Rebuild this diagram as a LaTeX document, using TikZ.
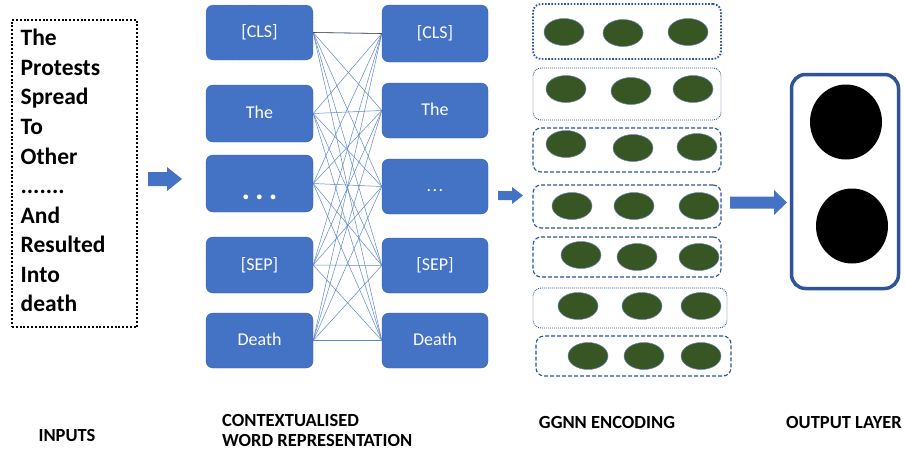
\documentclass[tikz,border=0pt]{standalone}
\usepackage{fontspec}
\setmainfont{Carlito}
\usetikzlibrary{shapes.geometric}
\definecolor{obl}{HTML}{4472C4}
\definecolor{dbl}{HTML}{2F5597}
\definecolor{grn}{HTML}{375623}
\begin{document}
\begin{tikzpicture}[x=1pt,y=-1pt,
  wbox/.style={rectangle, rounded corners=7pt, fill=obl, draw=obl!85!black, line width=0.4pt,
    text=white, font=\fontsize{18}{20}\selectfont, minimum width=106pt, minimum height=56pt,
    inner sep=0pt, text height=1.1em, text depth=0.1em},
  conn/.style={draw=obl!85, line width=0.5pt},
  gbox/.style={rectangle, rounded corners=8pt, draw=dbl, inner sep=0pt},
  thickdot/.style={gbox, line width=1.8pt, dash pattern=on 1.6pt off 1.6pt},
  finedot/.style={gbox, line width=0.9pt, dash pattern=on 0.9pt off 1.1pt},
  dashbox/.style={gbox, line width=1.1pt, dash pattern=on 4pt off 2pt},
  cell/.style={ellipse, fill=grn, draw=dbl!70, line width=0.5pt, minimum width=40pt, minimum height=27pt, inner sep=0pt},
  word/.style={anchor=base west, inner sep=0pt, font=\bfseries\fontsize{23.5}{27}\selectfont},
  captext/.style={font=\bfseries\fontsize{18.5}{20}\selectfont, inner sep=0pt},
  blockarrow/.style={fill=obl}
]
\useasboundingbox (0,0) rectangle (905,450);
\fill[white] (0,0) rectangle (905,450);

% ---------- inputs ----------
\node[draw, line width=2.2pt, dash pattern=on 2pt off 1.8pt, minimum width=125pt, minimum height=307pt, inner sep=0pt] (inbox) at (74.5,173.5) {};
\node[word] (w1) at (20.5,45.7) {The};
\node[word] (w2) at (20.5,75.3) {Protests};
\node[word] (w3) at (20.5,104.8) {Spread};
\node[word] (w4) at (20.5,134.4) {To};
\node[word] (w5) at (20.5,164.0) {Other};
\node[word] (w6) at (20.5,193.5) {.......};
\node[word] (w7) at (20.5,223.1) {And};
\node[word] (w8) at (20.5,252.6) {Resulted};
\node[word] (w9) at (20.5,282.2) {Into};
\node[word] (w10) at (20.5,311.7) {death};

% arrow 1
\fill[blockarrow] (148,172) -- (167,172) -- (167,167) -- (182,179) -- (167,191) -- (167,186) -- (148,186) -- cycle;

% ---------- contextualised word representation ----------
\node[wbox, draw=dbl, densely dotted, minimum width=107pt, minimum height=55pt] (lcls) at (259.5,32.5) {[CLS]};
\node[wbox, minimum width=107pt, minimum height=57pt] (lthe) at (259.5,113.5) {The};
\node[wbox, minimum width=107pt, minimum height=57pt] (ldots) at (259.5,183.5) {};
\node[wbox, minimum width=107pt, minimum height=56pt] (lsep) at (259.5,265) {[SEP]};
\node[wbox, minimum width=107pt, minimum height=55pt] (ldeath) at (259.5,340.5) {Death};

\node[wbox, minimum width=106pt, minimum height=57pt] (rcls) at (435,33.5) {[CLS]};
\node[wbox, minimum width=106pt, minimum height=55pt] (rthe) at (435,110.5) {The};
\node[wbox, minimum width=106pt, minimum height=55pt] (rdots) at (435,186.5) {.\hspace{1.5pt}.\hspace{1.5pt}.};
\node[wbox, minimum width=106pt, minimum height=55pt] (rsep) at (435,265.5) {[SEP]};
\node[wbox, minimum width=106pt, minimum height=55pt] (rdeath) at (435,340.5) {Death};

\node[text=white, font=\bfseries\fontsize{32}{34}\selectfont, inner sep=0pt, anchor=base] (ldotstext) at (259.5,199) {.\hspace{5pt}.\hspace{5pt}.};

\foreach \a in {lcls,lthe,ldots,lsep,ldeath}{
  \foreach \b in {rcls,rthe,rdots,rsep,rdeath}{
    \draw[conn] (\a.east) -- (\b.west);
  }
}
\draw[gray!60!black, line width=0.6pt] (lcls.east) -- (rcls.west);

% arrow 2
\fill[blockarrow] (498,191) -- (512,191) -- (512,187) -- (523,195.5) -- (512,204) -- (512,200) -- (498,200) -- cycle;

% ---------- GGNN encoding ----------
\node[thickdot, minimum width=188pt, minimum height=55pt] (g1) at (627,31.5) {};
\node[finedot, minimum width=188pt, minimum height=52pt] (g2) at (627,94) {};
\node[dashbox, minimum width=188pt, minimum height=44pt] (g3) at (627,150) {};
\node[dashbox, minimum width=188pt, minimum height=43pt] (g4) at (627,206.5) {};
\node[dashbox, minimum width=188pt, minimum height=40pt] (g5) at (627,257) {};
\node[finedot, minimum width=194pt, minimum height=40pt] (g6) at (630,308) {};
\node[dashbox, minimum width=195pt, minimum height=40pt] (g7) at (633.5,356) {};

\node[cell] (c11) at (564,32) {};
\node[cell] (c12) at (623,33) {};
\node[cell] (c13) at (688,32) {};
\node[cell] (c21) at (566,89) {};
\node[cell] (c22) at (631,91) {};
\node[cell] (c23) at (693,89) {};
\node[cell] (c31) at (566,144) {};
\node[cell] (c32) at (633,148) {};
\node[cell] (c33) at (697,147) {};
\node[cell] (c41) at (572,206) {};
\node[cell] (c42) at (634,206) {};
\node[cell] (c43) at (699,206) {};
\node[cell] (c51) at (581,255) {};
\node[cell] (c52) at (637,257) {};
\node[cell] (c53) at (699,257) {};
\node[cell] (c61) at (578,306) {};
\node[cell] (c62) at (642,306) {};
\node[cell] (c63) at (701,306) {};
\node[cell] (c71) at (588,356) {};
\node[cell] (c72) at (644,356) {};
\node[cell] (c73) at (701,356) {};

% arrow 3
\fill[blockarrow] (730,196.5) -- (774,196.5) -- (774,190) -- (787,202.5) -- (774,215) -- (774,208.5) -- (730,208.5) -- cycle;

% ---------- output layer ----------
\node[rectangle, rounded corners=14pt, draw=dbl, line width=3.5pt, minimum width=107pt, minimum height=214pt, inner sep=0pt] (outbox) at (845,181.5) {};
\node[ellipse, fill=black, minimum width=72pt, minimum height=75pt, inner sep=0pt] (o1) at (846,122) {};
\node[ellipse, fill=black, minimum width=72pt, minimum height=75pt, inner sep=0pt] (o2) at (852,226) {};

% ---------- captions ----------
\node[captext] (l1) at (67,435) {INPUTS};
\node[captext, anchor=west] (l2a) at (222,420) {CONTEXTUALISED};
\node[captext, anchor=west] (l2b) at (222,440) {WORD REPRESENTATION};
\node[captext] (l3) at (607,422) {GGNN ENCODING};
\node[captext] (l4) at (844,422) {OUTPUT LAYER};
\end{tikzpicture}
\end{document}
